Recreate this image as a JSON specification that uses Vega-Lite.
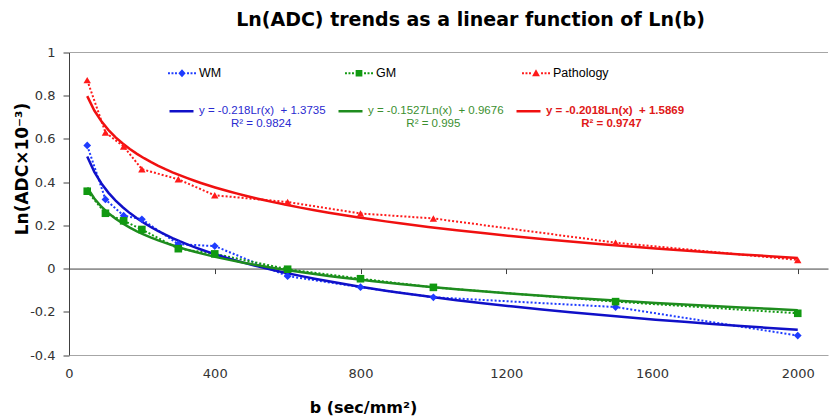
{
  "$schema": "https://vega.github.io/schema/vega-lite/v6.json",
  "width": 759,
  "height": 302.5,
  "autosize": "none",
  "padding": {"left": 69, "top": 52.5, "right": 2, "bottom": 62},
  "background": "white",
  "config": {"view": {"stroke": null}, "font": "DejaVu Sans"},
  "title": {"text": "Ln(ADC) trends as a linear function of Ln(b)", "font": "DejaVu Sans", "fontSize": 19, "fontWeight": "bold", "color": "#000000", "anchor": "middle", "frame": "group", "offset": 17, "dx": 22},
  "data": {"values": [
    {"series": "WM", "b": 50, "y": 0.57},
    {"series": "WM", "b": 100, "y": 0.32},
    {"series": "WM", "b": 150, "y": 0.245},
    {"series": "WM", "b": 200, "y": 0.228},
    {"series": "WM", "b": 300, "y": 0.113},
    {"series": "WM", "b": 400, "y": 0.104},
    {"series": "WM", "b": 600, "y": -0.035},
    {"series": "WM", "b": 800, "y": -0.086},
    {"series": "WM", "b": 1000, "y": -0.133},
    {"series": "WM", "b": 1500, "y": -0.178},
    {"series": "WM", "b": 2000, "y": -0.31},
    {"series": "GM", "b": 50, "y": 0.358},
    {"series": "GM", "b": 100, "y": 0.256},
    {"series": "GM", "b": 150, "y": 0.221},
    {"series": "GM", "b": 200, "y": 0.181},
    {"series": "GM", "b": 300, "y": 0.092},
    {"series": "GM", "b": 400, "y": 0.068},
    {"series": "GM", "b": 600, "y": -0.003},
    {"series": "GM", "b": 800, "y": -0.047},
    {"series": "GM", "b": 1000, "y": -0.087},
    {"series": "GM", "b": 1500, "y": -0.153},
    {"series": "GM", "b": 2000, "y": -0.207},
    {"series": "Pathology", "b": 50, "y": 0.872},
    {"series": "Pathology", "b": 100, "y": 0.63},
    {"series": "Pathology", "b": 150, "y": 0.565},
    {"series": "Pathology", "b": 200, "y": 0.46},
    {"series": "Pathology", "b": 300, "y": 0.413},
    {"series": "Pathology", "b": 400, "y": 0.339},
    {"series": "Pathology", "b": 600, "y": 0.308},
    {"series": "Pathology", "b": 800, "y": 0.255},
    {"series": "Pathology", "b": 1000, "y": 0.232},
    {"series": "Pathology", "b": 1500, "y": 0.12},
    {"series": "Pathology", "b": 2000, "y": 0.04}
  ]},
  "encoding": {
    "y": {"field": "y", "type": "quantitative",
      "scale": {"domain": [-0.4, 1], "nice": false, "zero": false},
      "axis": {"values": [-0.4, -0.2, 0, 0.2, 0.4, 0.6, 0.8, 1], "labelExpr": "datum.value + ''", "grid": false,
        "domainColor": "#404040", "tickColor": "#404040", "tickSize": 6, "labelPadding": 8,
        "labelFont": "DejaVu Sans", "labelFontSize": 13, "labelColor": "#333333",
        "title": "Ln(ADC×10⁻³)", "titleFont": "DejaVu Sans", "titleFontWeight": "bold", "titleFontSize": 17, "titleColor": "#000000",
        "titleX": -47, "titleY": 116, "titleAngle": 270, "titleAlign": "center", "titleBaseline": "middle"}}
  },
  "layer": [
    {
      "mark": {"type": "rule", "color": "#a6a6a6", "strokeWidth": 1},
      "encoding": {"y": {"datum": 1}}
    },
    {
      "mark": {"type": "line", "strokeDash": [2, 2], "strokeWidth": 2, "strokeCap": "butt"},
      "encoding": {
        "x": {"field": "b", "type": "quantitative", "scale": {"domain": [0, 2083], "nice": false, "zero": false},
          "axis": {"orient": "bottom", "values": [0, 400, 800, 1200, 1600, 2000], "format": "d", "ticks": false, "grid": false,
            "domainColor": "#a6a6a6", "labelFont": "DejaVu Sans", "labelFontSize": 13, "labelColor": "#333333", "labelPadding": 12, "labelFlush": false,
            "title": "b (sec/mm²)", "titleFont": "DejaVu Sans", "titleFontWeight": "bold", "titleFontSize": 16, "titleColor": "#000000",
            "titleX": 294, "titleY": 57, "titleAlign": "center", "titleBaseline": "alphabetic"}},
        "color": {"field": "series", "type": "nominal", "scale": {"domain": ["WM", "GM", "Pathology"], "range": ["#1e3cff", "#119911", "#ff1a1a"]}, "legend": null},
        "detail": {"field": "series"}
      }
    },
    {
      "transform": [{"regression": "y", "on": "b", "groupby": ["series"], "method": "log"}],
      "mark": {"type": "line", "strokeWidth": 2.5},
      "encoding": {
        "x": {"field": "b", "type": "quantitative", "scale": {"domain": [0, 2083], "nice": false, "zero": false},
          "axis": {"orient": "bottom", "offset": -86.43, "values": [0, 400, 800, 1200, 1600, 2000], "labels": false, "grid": false, "title": null,
            "domainColor": "#404040", "domainWidth": 1, "tickColor": "#404040", "tickSize": 5}},
        "color": {"field": "series", "type": "nominal",
          "scale": {"domain": ["WM", "GM", "Pathology"], "range": ["#1010c8", "#1e8c1e", "#f01010"]},
          "legend": {"title": null, "orient": "none", "legendX": 99, "legendY": 45, "direction": "horizontal", "columns": 3, "gridAlign": "each",
            "columnPadding": 7, "symbolType": "stroke", "symbolSize": 576, "symbolStrokeWidth": 2.5, "labelOffset": 4, "labelLimit": 400,
            "labelFont": "Liberation Sans", "labelFontSize": 11.5,
            "labelExpr": "datum.value == 'WM' ? ['y = -0.218Lr(x)\u00a0\u00a0+ 1.3735', '\u200b\u00a0\u00a0\u00a0\u00a0\u00a0\u00a0\u00a0\u00a0\u00a0\u00a0R² = 0.9824'] : datum.value == 'GM' ? ['y = -0.1527Ln(x)\u00a0\u00a0+ 0.9676', '\u200b\u00a0\u00a0\u00a0\u00a0\u00a0\u00a0\u00a0\u00a0\u00a0\u00a0\u00a0\u00a0R² = 0.995'] : ['y = -0.2018Ln(x)\u00a0\u00a0+ 1.5869', '\u200b\u00a0\u00a0\u00a0\u00a0\u00a0\u00a0\u00a0\u00a0\u00a0\u00a0\u00a0R² = 0.9747']",
            "encode": {"labels": {"update": {
              "fill": {"signal": "datum.value == 'WM' ? '#2a2ad0' : datum.value == 'GM' ? '#3b8f2f' : '#e01818'"},
              "fontWeight": {"signal": "datum.value == 'Pathology' ? 'bold' : 'normal'"},
              "baseline": {"value": "top"},
              "dy": {"value": -6},
              "lineHeight": {"value": 12.5}
            }}}}}
      }
    },
    {
      "mark": {"type": "point", "filled": true, "opacity": 1},
      "encoding": {
        "x": {"field": "b", "type": "quantitative", "scale": {"domain": [0, 2083], "nice": false, "zero": false}, "axis": null},
        "color": {"field": "series", "type": "nominal", "scale": {"domain": ["WM", "GM", "Pathology"], "range": ["#1e3cff", "#119911", "#ff1a1a"]}, "legend": null},
        "shape": {"field": "series", "type": "nominal", "scale": {"domain": ["WM", "GM", "Pathology"], "range": ["diamond", "square", "triangle-up"]}, "legend": null},
        "size": {"field": "series", "type": "nominal", "scale": {"domain": ["WM", "GM", "Pathology"], "range": [60, 55, 75]}, "legend": null}
      }
    },
    {
      "transform": [{"filter": "datum.b < 0"}],
      "mark": {"type": "point", "filled": true, "opacity": 1},
      "encoding": {
        "x": {"field": "b", "type": "quantitative", "scale": {"domain": [0, 2083], "nice": false, "zero": false}, "axis": null},
        "color": {"field": "series", "type": "nominal", "scale": {"domain": ["WM", "GM", "Pathology"], "range": ["#1e3cff", "#119911", "#ff1a1a"]},
          "legend": {"title": null, "orient": "none", "legendX": 99, "legendY": 6.5, "direction": "horizontal", "columns": 3, "gridAlign": "all",
            "columnPadding": 90, "symbolSize": 784, "symbolStrokeWidth": 0, "labelOffset": 3, "labelFont": "Liberation Sans", "labelFontSize": 12.5, "labelColor": "#000000"}},
        "shape": {"field": "series", "type": "nominal",
          "scale": {"domain": ["WM", "GM", "Pathology"], "range": [
            "M-1,-0.07h0.14v0.14h-0.14z M-0.75,-0.07h0.14v0.14h-0.14z M-0.5,-0.07h0.14v0.14h-0.14z M0.36,-0.07h0.14v0.14h-0.14z M0.61,-0.07h0.14v0.14h-0.14z M0.86,-0.07h0.14v0.14h-0.14z M0,-0.28L0.26,0L0,0.28L-0.26,0z",
            "M-1,-0.07h0.14v0.14h-0.14z M-0.75,-0.07h0.14v0.14h-0.14z M-0.5,-0.07h0.14v0.14h-0.14z M0.36,-0.07h0.14v0.14h-0.14z M0.61,-0.07h0.14v0.14h-0.14z M0.86,-0.07h0.14v0.14h-0.14z M-0.24,-0.24h0.48v0.48h-0.48z",
            "M-1,-0.07h0.14v0.14h-0.14z M-0.75,-0.07h0.14v0.14h-0.14z M-0.5,-0.07h0.14v0.14h-0.14z M0.36,-0.07h0.14v0.14h-0.14z M0.61,-0.07h0.14v0.14h-0.14z M0.86,-0.07h0.14v0.14h-0.14z M0,-0.28L0.28,0.22L-0.28,0.22z"
          ]},
          "legend": {"title": null, "orient": "none", "legendX": 99, "legendY": 6.5, "direction": "horizontal", "columns": 3, "gridAlign": "all",
            "columnPadding": 90, "symbolSize": 784, "symbolStrokeWidth": 0, "labelOffset": 3, "labelFont": "Liberation Sans", "labelFontSize": 12.5, "labelColor": "#000000"}}
      }
    }
  ],
  "resolve": {"scale": {"color": "independent", "shape": "independent", "size": "independent"}, "axis": {"x": "independent"}}
}
